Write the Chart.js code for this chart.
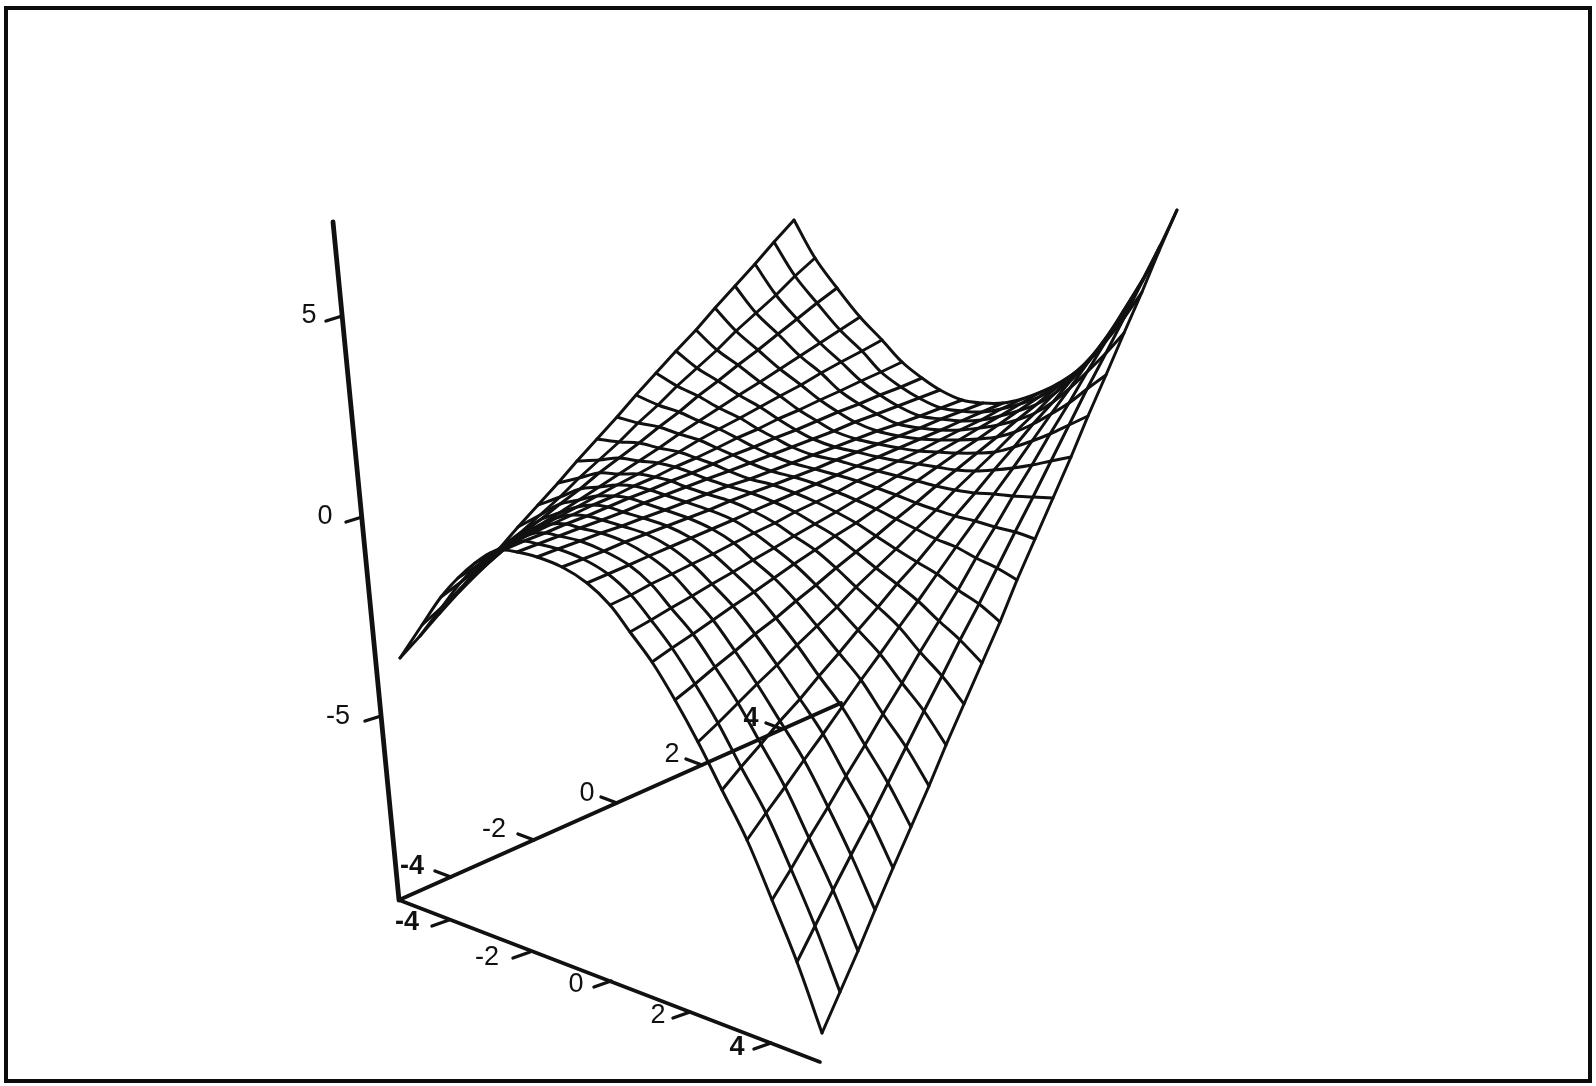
<!DOCTYPE html>
<html>
<head>
<meta charset="utf-8">
<title>Saddle surface</title>
<script src="https://cdn.jsdelivr.net/npm/chart.js@4/dist/chart.umd.js"></script>
<style>
  html, body { margin: 0; padding: 0; background: #fff; }
  #wrap { position: relative; width: 1596px; height: 1086px; overflow: hidden; }
  #frame { position: absolute; left: 4px; top: 6px; width: 1580px; height: 1069px; border: 4px solid #0c0c0c; }
  canvas { position: absolute; left: 0; top: 0; }
</style>
</head>
<body>
<div id="wrap">
  <canvas id="saddle" width="1596" height="1086"></canvas>
  <div id="frame"></div>
</div>
<script>
// Surface nodes as printed in the picture's projection, one row per cross line,
// estimated from the edge nodes and crossings of the mesh.
const surfaceX = [
  [400,420,439,459,479,499,518,538,558,577,597,617,636,656,676,696,715,735,755,774,794],
  [422,442,461,481,501,520,540,560,579,599,619,638,658,677,697,717,736,756,776,795,815],
  [441,461,481,500,520,540,560,580,599,619,639,659,679,698,718,738,758,778,797,817,837],
  [458,478,498,518,538,559,579,599,619,639,659,679,699,719,739,760,780,800,820,840,860],
  [475,495,516,536,556,577,597,617,638,658,679,699,719,740,760,780,801,821,841,862,882],
  [490,511,531,552,572,593,614,634,655,675,696,717,737,758,778,799,820,840,861,881,902],
  [503,524,545,566,587,608,629,650,671,692,713,733,754,775,796,817,838,859,880,901,922],
  [517,538,559,580,602,623,644,665,686,707,729,750,771,792,813,834,855,877,898,919,940],
  [537,558,580,601,622,643,665,686,707,728,750,771,792,813,835,856,877,898,920,941,962],
  [562,583,604,625,646,667,688,709,730,751,773,794,815,836,857,878,899,920,941,962,983],
  [587,608,629,649,670,691,712,733,753,774,795,816,837,857,878,899,920,941,961,982,1003],
  [610,631,651,672,692,713,734,754,775,795,816,837,857,878,898,919,940,960,981,1001,1022],
  [630,651,671,692,712,733,753,774,794,815,836,856,877,897,918,938,959,979,1000,1020,1041],
  [652,672,693,713,733,754,774,794,815,835,856,876,896,917,937,957,978,998,1018,1039,1059],
  [675,695,715,735,755,776,796,816,836,856,876,896,916,936,956,977,997,1017,1037,1057,1077],
  [698,718,738,757,777,797,817,837,856,876,896,916,936,955,975,995,1015,1035,1054,1074,1094],
  [722,741,761,780,800,819,839,858,878,897,917,936,955,975,994,1014,1033,1053,1072,1092,1111],
  [747,766,785,804,823,842,861,880,899,918,937,956,975,994,1013,1032,1051,1070,1089,1108,1127],
  [772,791,809,828,846,865,883,902,920,939,958,976,995,1013,1032,1050,1069,1087,1106,1124,1143],
  [797,815,833,851,870,888,906,924,942,960,979,997,1015,1033,1051,1069,1087,1106,1124,1142,1160],
  [822,840,858,875,893,911,929,946,964,982,1000,1017,1035,1053,1071,1088,1106,1124,1142,1159,1177],
]
const surfaceY = [
  [658,636,614,592,570,549,527,505,483,461,439,417,395,373,351,330,308,286,264,242,220],
  [625,607,588,570,552,533,515,497,478,460,442,423,405,386,368,350,331,313,295,276,258],
  [597,582,566,551,535,520,504,489,473,458,443,427,412,396,381,365,350,334,319,303,288],
  [578,565,552,539,526,513,500,487,474,461,448,434,421,408,395,382,369,356,343,330,317],
  [563,552,541,530,518,507,496,485,474,463,452,440,429,418,407,396,385,373,362,351,340],
  [553,543,534,524,515,505,496,486,477,467,458,448,438,429,419,410,400,391,381,372,362],
  [550,541,533,524,516,507,498,490,481,473,464,455,447,438,430,421,412,404,395,387,378],
  [552,544,536,528,520,512,503,495,487,479,471,463,455,447,439,431,422,414,406,398,390],
  [557,549,541,533,526,518,510,502,494,486,479,471,463,455,447,439,431,424,416,408,400],
  [567,559,551,542,534,526,518,510,501,493,485,477,469,460,452,444,436,428,419,411,403],
  [583,574,565,556,547,538,529,520,511,502,493,484,475,466,457,448,439,430,421,412,403],
  [605,595,584,574,564,554,543,533,523,512,502,492,481,471,461,451,440,430,420,409,399],
  [632,620,608,596,584,572,560,548,536,524,512,500,488,476,464,452,440,428,416,404,392],
  [662,648,634,620,606,592,578,564,550,536,523,509,495,481,467,453,439,425,411,397,383],
  [700,684,667,651,634,618,601,585,568,552,536,519,503,486,470,453,437,420,404,387,371],
  [742,723,703,684,665,645,626,607,587,568,549,529,510,490,471,452,432,413,394,374,355],
  [790,767,744,721,699,676,653,630,607,584,562,539,516,493,470,447,424,402,379,356,333],
  [840,813,787,760,734,707,680,654,627,601,574,547,521,494,468,441,414,388,361,335,308],
  [900,869,838,807,776,745,714,683,652,621,590,558,527,496,465,434,403,372,341,310,279],
  [962,926,890,855,819,783,747,711,676,640,604,568,532,497,461,425,389,353,318,282,246],
  [1033,992,951,910,868,827,786,745,704,663,622,580,539,498,457,416,375,333,292,251,210],
]

// axis lines, start and end
const axisOriginX = 399
const axisOriginY = 900
const axisEndsX = [820, 841, 333]
const axisEndsY = [1062, 703, 222]

// tick labels and where each tick meets its axis
const frontTicks = ['-4', '-2', '0', '2', '4']
const frontTickX = [449, 530, 611, 690, 771]
const frontTickY = [920, 952, 981, 1012, 1043]
const frontLabelX = [407, 487, 576, 658, 737]
const frontLabelY = [923, 958, 985, 1016, 1048]

const sideTicks = ['-4', '-2', '0', '2', '4']
const sideTickX = [451, 534, 617, 702, 782]
const sideTickY = [877, 840, 803, 765, 729]
const sideLabelX = [412, 494, 587, 672, 751]
const sideLabelY = [867, 830, 794, 755, 719]

const heightTicks = ['-5', '0', '5']
const heightTickX = [381, 362, 342]
const heightTickY = [716, 517, 316]
const heightLabelX = [338, 325, 309]
const heightLabelY = [717, 517, 316]

const INK = '#111'
const MESH_WIDTH = 3

function polyline(points, width, tension = 0) {
  return {
    data: points,
    showLine: true,
    borderColor: INK,
    borderWidth: width,
    pointRadius: 0,
    tension,
    borderCapStyle: 'round',
    borderJoinStyle: 'round',
  }
}

function meshDatasets() {
  const sets = []
  surfaceX.forEach((row, i) => {
    sets.push(polyline(row.map((x, j) => ({ x, y: surfaceY[i][j] })), MESH_WIDTH))
  })
  // these run along the curved direction of the saddle
  surfaceX[0].forEach((_, j) => {
    sets.push(polyline(surfaceX.map((row, i) => ({ x: row[j], y: surfaceY[i][j] })), MESH_WIDTH, 0.35))
  })
  return sets
}

function axisDatasets() {
  const widths = [3.6, 4, 4.8]
  return axisEndsX.map((x, k) => polyline([{ x: axisOriginX, y: axisOriginY }, { x, y: axisEndsY[k] }], widths[k]))
}

function tickDatasets(xs, ys, dx, dy) {
  return xs.map((x, k) => polyline([{ x, y: ys[k] }, { x: x + dx, y: ys[k] + dy }], 3.4))
}

// draws the tick labels through the chart's scales
const tickLabels = {
  id: 'tickLabels',
  afterDatasetsDraw(chart) {
    const { ctx, scales } = chart
    const put = (texts, xs, ys, bold) => {
      texts.forEach((text, k) => {
        ctx.font = `${bold(text) ? 'bold ' : ''}27px "Liberation Sans"`
        ctx.fillText(text, scales.x.getPixelForValue(xs[k]), scales.y.getPixelForValue(ys[k]))
      })
    }
    ctx.save()
    ctx.fillStyle = INK
    ctx.textAlign = 'center'
    ctx.textBaseline = 'middle'
    put(frontTicks, frontLabelX, frontLabelY, t => t === '-4' || t === '4')
    put(sideTicks, sideLabelX, sideLabelY, t => t === '-4' || t === '4')
    put(heightTicks, heightLabelX, heightLabelY, () => false)
    ctx.restore()
  },
}

new Chart(document.getElementById('saddle'), {
  type: 'scatter',
  data: {
    datasets: [
      ...axisDatasets(),
      ...tickDatasets(frontTickX, frontTickY, -17, 6),
      ...tickDatasets(sideTickX, sideTickY, -16, -6),
      ...tickDatasets(heightTickX, heightTickY, -16, 5),
      ...meshDatasets(),
    ],
  },
  options: {
    responsive: false,
    animation: false,
    layout: { padding: 0 },
    plugins: { legend: { display: false }, tooltip: { enabled: false } },
    scales: {
      x: { type: 'linear', display: false, min: 0, max: 1596 },
      y: { type: 'linear', display: false, min: 0, max: 1086, reverse: true },
    },
  },
  plugins: [tickLabels],
})
</script>
</body>
</html>
